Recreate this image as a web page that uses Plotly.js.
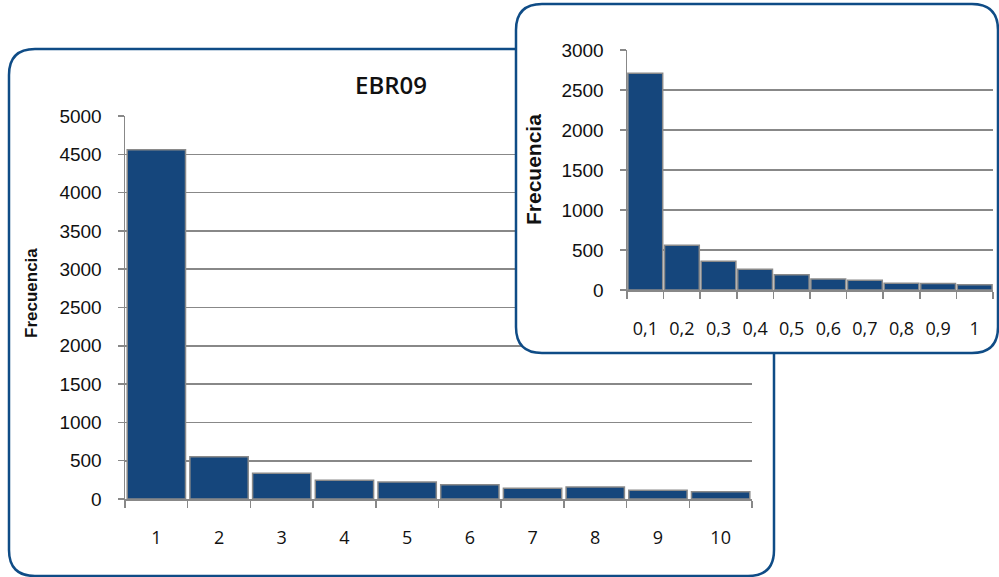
<!DOCTYPE html>
<html>
<head>
<meta charset="utf-8">
<script src="https://cdn.plot.ly/plotly-3.0.1.min.js"></script>
<style>
  html, body { margin: 0; padding: 0; background: #ffffff; }
  #wrap { position: relative; width: 999px; height: 577px; overflow: hidden; }
  .layer { position: absolute; left: 0; top: 0; width: 999px; height: 577px; }
</style>
</head>
<body>
<div id="wrap">
  <div id="main" class="layer"></div>
  <div id="inset" class="layer"></div>
</div>
<script>
// Main histogram: EBR09 frequency by class
const mainCats = ['1', '2', '3', '4', '5', '6', '7', '8', '9', '10'];
const mainFreq = [4560, 550, 335, 245, 222, 187, 140, 157, 113, 95];
const mainTicks = [0, 500, 1000, 1500, 2000, 2500, 3000, 3500, 4000, 4500, 5000];

// Inset histogram: finer classes between 0 and 1
const insetCats = ['0,1', '0,2', '0,3', '0,4', '0,5', '0,6', '0,7', '0,8', '0,9', '1'];
const insetFreq = [2710, 558, 358, 258, 192, 137, 121, 83, 80, 67];
const insetTicks = [0, 500, 1000, 1500, 2000, 2500, 3000];

const W = 999, H = 577;
const BAR = '#15467c';
const BAR_EDGE = '#8a8a8a';
const GRID = '#888888';
const FRAME = '#0f4c86';
const TXT = '#111111';

// Rounded rectangle path, given in pixels and converted to paper coords
function roundedBox(m, x0, y0, x1, y1, r) {
  const pw = W - m.l - m.r, ph = H - m.t - m.b;
  const X = px => ((px - m.l) / pw).toFixed(5);
  const Y = py => ((H - m.b - py) / ph).toFixed(5);
  return 'M' + X(x0 + r) + ',' + Y(y0) +
    ' L' + X(x1 - r) + ',' + Y(y0) +
    ' Q' + X(x1) + ',' + Y(y0) + ' ' + X(x1) + ',' + Y(y0 + r) +
    ' L' + X(x1) + ',' + Y(y1 - r) +
    ' Q' + X(x1) + ',' + Y(y1) + ' ' + X(x1 - r) + ',' + Y(y1) +
    ' L' + X(x0 + r) + ',' + Y(y1) +
    ' Q' + X(x0) + ',' + Y(y1) + ' ' + X(x0) + ',' + Y(y1 - r) +
    ' L' + X(x0) + ',' + Y(y0 + r) +
    ' Q' + X(x0) + ',' + Y(y0) + ' ' + X(x0 + r) + ',' + Y(y0) + ' Z';
}
function pxX(m, px) { return (px - m.l) / (W - m.l - m.r); }
function pxY(m, py) { return (H - m.b - py) / (H - m.t - m.b); }

function axes(m, ticks, xfont, yfont, xstand) {
  return {
    xaxis: {
      type: 'category', tickson: 'boundaries', ticks: 'outside', ticklen: 7,
      tickcolor: GRID, tickwidth: 1.5, showline: true, linecolor: GRID, linewidth: 1.5,
      showgrid: false, zeroline: false, fixedrange: true,
      tickfont: xfont, ticklabelstandoff: xstand
    },
    yaxis: {
      range: [0, ticks[ticks.length - 1]], tickvals: ticks, ticktext: ticks.map(String),
      showgrid: true, gridcolor: GRID, gridwidth: 1.6,
      ticks: 'outside', ticklen: 6, tickcolor: GRID, tickwidth: 1.5,
      showline: true, linecolor: GRID, linewidth: 1.5, zeroline: false, fixedrange: true,
      tickfont: yfont, ticklabelstandoff: 12
    }
  };
}

// ---- main chart ----
const mM = { l: 125, r: 247, t: 116, b: 78, pad: 0 };
const mainAx = axes(mM, mainTicks,
  { family: 'Open Sans, sans-serif', size: 18, color: TXT },
  { family: 'Liberation Sans, Arial, sans-serif', size: 19, color: TXT }, 22);

Plotly.newPlot('main', [{
  type: 'bar', x: mainCats, y: mainFreq,
  marker: { color: BAR, line: { color: BAR_EDGE, width: 1.5 } },
  hoverinfo: 'x+y'
}], Object.assign({
  width: W, height: H, margin: mM,
  paper_bgcolor: '#ffffff', plot_bgcolor: 'rgba(0,0,0,0)',
  bargap: 0.07, showlegend: false,
  title: {
    text: 'EBR09', xref: 'container', yref: 'container',
    x: 391 / W, xanchor: 'center', y: 1 - 86 / H, yanchor: 'middle',
    font: { family: 'Open Sans, sans-serif', size: 24, weight: 600, color: TXT }
  },
  annotations: [{
    text: '<b>Frecuencia</b>', textangle: -90, showarrow: false,
    xref: 'paper', yref: 'paper', x: pxX(mM, 31), y: pxY(mM, 293),
    xanchor: 'center', yanchor: 'middle',
    font: { family: 'Liberation Sans, Arial, sans-serif', size: 17, color: TXT }
  }],
  shapes: [{
    type: 'path', xref: 'paper', yref: 'paper', layer: 'below',
    path: roundedBox(mM, 9, 49, 774, 576, 26),
    line: { color: FRAME, width: 2.5 }, fillcolor: 'rgba(0,0,0,0)'
  }]
}, mainAx), { displayModeBar: false, staticPlot: true });

// ---- inset chart ----
const iM = { l: 627, r: 6, t: 50, b: 287, pad: 0 };
const insetAx = axes(iM, insetTicks,
  { family: 'Open Sans, sans-serif', size: 18, color: TXT },
  { family: 'Liberation Sans, Arial, sans-serif', size: 19, color: TXT }, 22);

Plotly.newPlot('inset', [{
  type: 'bar', x: insetCats, y: insetFreq,
  marker: { color: BAR, line: { color: BAR_EDGE, width: 1.5 } },
  hoverinfo: 'x+y'
}], Object.assign({
  width: W, height: H, margin: iM,
  paper_bgcolor: 'rgba(0,0,0,0)', plot_bgcolor: 'rgba(0,0,0,0)',
  bargap: 0.05, showlegend: false,
  annotations: [{
    text: '<b>Frecuencia</b>', textangle: -90, showarrow: false,
    xref: 'paper', yref: 'paper', x: pxX(iM, 533), y: pxY(iM, 170),
    xanchor: 'center', yanchor: 'middle',
    font: { family: 'Liberation Sans, Arial, sans-serif', size: 21, color: TXT }
  }],
  shapes: [{
    type: 'path', xref: 'paper', yref: 'paper', layer: 'below',
    path: roundedBox(iM, 516, 4, 998, 353, 26),
    line: { color: FRAME, width: 2.5 }, fillcolor: '#ffffff'
  }]
}, insetAx), { displayModeBar: false, staticPlot: true });
</script>
</body>
</html>
